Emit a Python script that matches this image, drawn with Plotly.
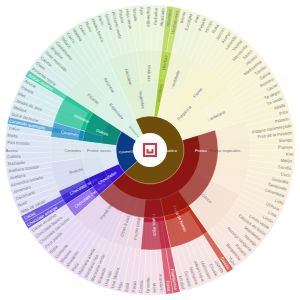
import plotly.graph_objects as go

# ---------------- data ----------------
ring1 = ["Enzimatico", "Caramelizzazione", "Distillazione secca"]
ring1_colors = ["#6f4e0b", "#0b3b85", "#d9f2e6"]

ring2 = ["Vegetales", "Aromáticas", "Fragancia", "Frutas",
         "Chocolates", "Frutos secos", "Dulces", "Especiado"]
ring2_parents = ["Enzimatico"] * 4 + ["Caramelizzazione"] * 3 + ["Distillazione secca"]
ring2_colors = ["#e0f1d6", "#a6cc2e", "#f8f5d6", "#8b1612",
                "#3616d4", "#dde8f0", "#0b8a78", "#dcf2e8"]

ring3 = ["Herbáceo", "Verduras", "Hierbas", "Mentolado", "Flores", "Herbolario",
         "Frutas tropicales", "Cítrico", "Fruta de hueso", "Frutos rojos",
         "Frutas pasas", "Otras frutas", "Pomáceas",
         "Chocolate con leche", "Chocolate negro", "Nueces", "Cereales",
         "Caramelo", "Azúcares", "Picante", "Resinoso"]
ring3_parents = ["Vegetales", "Vegetales", "Aromáticas", "Fragancia", "Fragancia", "Fragancia",
                 "Frutas", "Frutas", "Frutas", "Frutas", "Frutas", "Frutas", "Frutas",
                 "Chocolates", "Chocolates", "Frutos secos", "Frutos secos",
                 "Dulces", "Dulces", "Especiado", "Especiado"]
ring3_colors = ["#dcf0d8", "#e6f2d4", "#b2d43a", "#f1f3d2", "#f6f4d2", "#faf5da",
                "#f8ebd6", "#f4e0d2", "#b8200f", "#b21c34",
                "#eed9e2", "#ead6e6", "#e6d4ea",
                "#7a4ce6", "#2a12cc", "#d4dcef", "#dbe8ef",
                "#1a8ac8", "#14c08c", "#d6f0e2", "#dcf3e6"]

leaf_labels = [
    "Hierba fresca", "Heno", "Guisante", "Pimiento verde", "Pepino", "Hoja verde",
    "Tomate", "Apio", "Espárrago", "Ruibarbo", "Alcachofa",
    "Albahaca", "Hierbabuena",
    "Menta", "Eucalipto", "Anís", "Regaliz", "Hinojo",
    "Rosa", "Jazmín", "Azahar", "Lavanda", "Violeta", "Manzanilla", "Saúco", "Hibisco", "Madreselva",
    "Tomillo", "Salvia", "Romero", "Laurel", "Té negro", "Té verde", "Alfalfa",
    "Piña", "Plátano", "Plátano caramelizado", "Fruit de la Passion", "Mango", "Papaya", "Kiwi",
    "Melón", "Sandía", "Coco", "Guayaba", "Tamarindo", "Carambola", "Lichi", "Uchuva",
    "Lima", "Limón", "Limón verde", "Cáscara de limón", "Mandarina", "Naranja",
    "Naranja sanguina", "Pomelo", "Bergamota", "Yuzu",
    "Cereza", "Guinda", "Ciruela", "Melocotón", "Albaricoque", "Nectarina", "Durazno", "Mirabel",
    "Frambuesa", "Fresa", "Arándano", "Mora", "Grosella", "Cassis",
    "Pasas", "Dátil", "Higo",
    "Uva blanca", "Uva roja", "Granada",
    "Manzana verde", "Manzana roja", "Manzana asada", "Pera", "Membrillo", "Níspero",
    "Compota", "Sidra", "Pera asada",
    "Chocolate con leche", "Chocolate blanco", "Cacao en polvo",
    "Chocolate amargo", "Cacao", "Nibs de cacao",
    "Nuez", "Cacahuete", "Almendra", "Almendra tostada", "Avellana", "Avellana tostada",
    "Mazapán", "Galleta", "Avena", "Pan tostado", "Malta",
    "Toffee", "Caramelo quemado", "Dulce de leche",
    "Melaza", "Jarabe de arce", "Miel", "Panela", "Azúcar", "Azúcar moreno",
    "Pimienta negra", "Clavo", "Canela", "Nuez moscada", "Jengibre", "Cardamomo",
    "Tabaco", "Cuero", "Madera", "Cedro", "Humo",
]
leaf_parents = (["Herbáceo"] * 6 + ["Verduras"] * 5 + ["Hierbas"] * 2 + ["Mentolado"] * 5
                + ["Flores"] * 9 + ["Herbolario"] * 7 + ["Frutas tropicales"] * 15
                + ["Cítrico"] * 10 + ["Fruta de hueso"] * 8 + ["Frutos rojos"] * 6
                + ["Frutas pasas"] * 3 + ["Otras frutas"] * 3 + ["Pomáceas"] * 9
                + ["Chocolate con leche"] * 3 + ["Chocolate negro"] * 3 + ["Nueces"] * 6
                + ["Cereales"] * 5 + ["Caramelo"] * 3 + ["Azúcares"] * 6
                + ["Picante"] * 6 + ["Resinoso"] * 5)
leaf_values = [1] * len(leaf_labels)

accent_leaves = {"Albahaca": "#a6cc2e", "Hierbabuena": "#b4d43c", "Cereza": "#c42a16",
                 "Frambuesa": "#c41e3a", "Fresa": "#d02440", "Chocolate amargo": "#2a12d0",
                 "Cacao": "#3a18d8", "Caramelo quemado": "#1a8ad0", "Azúcar moreno": "#16c08e"}

# ---------------- styling helpers ----------------
START = 335.0          # compass angle where the first slice begins
REVERSE = True         # plotly lays slices counter-clockwise
ROT = 115

hue_stops = [(0, "#e2f1cf"), (40, "#f1f2c6"), (90, "#f8ecc6"), (130, "#f5e0d0"),
             (180, "#eed3e0"), (225, "#dccbf0"), (262, "#cfd8f0"), (292, "#c7e3ec"),
             (322, "#c6ecda"), (360, "#e2f1cf")]


def hx(c):
    return tuple(int(c[i:i + 2], 16) for i in (1, 3, 5))


def grad(a):
    a %= 360
    for (a0, c0), (a1, c1) in zip(hue_stops, hue_stops[1:]):
        if a0 <= a <= a1:
            t = (a - a0) / (a1 - a0)
            r = [round(x + (y - x) * t) for x, y in zip(hx(c0), hx(c1))]
            return "#%02x%02x%02x" % tuple(r)
    return hue_stops[0][1]


def is_dark(c):
    r, g, b = hx(c)
    return (0.299 * r + 0.587 * g + 0.114 * b) < 170


n_leaves = sum(leaf_values)
leaf_colors = []
acc = 0
for lab, v in zip(leaf_labels, leaf_values):
    mid = START + (acc + v / 2) * 360 / n_leaves
    acc += v
    leaf_colors.append(accent_leaves.get(lab, grad(mid)))

count3 = {k: 0 for k in ring3}
for p, v in zip(leaf_parents, leaf_values):
    count3[p] += v
count2 = {k: 0 for k in ring2}
for c, p in zip(ring3, ring3_parents):
    count2[p] += count3[c]


def order(lst):
    return list(reversed(lst)) if REVERSE else list(lst)


FONT = "Liberation Sans"
common = dict(sort=False, branchvalues="remainder", insidetextorientation="radial",
              rotation=ROT, hoverinfo="skip", texttemplate="%{text}")

# outer trace: ring3 roots + leaves
ids_big = order(ring3) + order([p + "/" + l for p, l in zip(leaf_parents, leaf_labels)])
par_big = [""] * len(ring3) + order(leaf_parents)
lab_big = order(ring3) + order(leaf_labels)
val_big = [0] * len(ring3) + order(leaf_values)
col_big = order(ring3_colors) + order(leaf_colors)
txt_big = [""] * len(ring3) + order(leaf_labels)
tc_big = ["#ffffff" if is_dark(c) else "#808080" for c in col_big]

# middle trace: ring2 roots + ring3
ids_mid = order(ring2) + order(ring3)
par_mid = [""] * len(ring2) + order(ring3_parents)
val_mid = [0] * len(ring2) + [count3[c] for c in order(ring3)]
col_mid = order(ring2_colors) + order(ring3_colors)
txt_mid = [""] * len(ring2) + order(ring3)
tc_mid = ["#ffffff" if is_dark(c) else "#777777" for c in col_mid]

# inner trace: ring1 roots + ring2
ids_sm = order(ring1) + order(ring2)
par_sm = [""] * len(ring1) + order(ring2_parents)
val_sm = [0] * len(ring1) + [count2[c] for c in order(ring2)]
col_sm = order(ring1_colors) + order(ring2_colors)
txt_sm = order(ring1) + order(ring2)
tc_sm = ["#ffffff" if is_dark(c) else "#777777" for c in col_sm]

fig = go.Figure()
fig.add_trace(go.Sunburst(ids=ids_big, labels=lab_big, parents=par_big, values=val_big,
                          text=txt_big, marker=dict(colors=col_big, line=dict(color="white", width=0.3)),
                          textfont=dict(family=FONT, size=4.2, color=tc_big),
                          domain=dict(x=[5 / 300, 295 / 300], y=[5 / 300, 295 / 300]), **common))
fig.add_trace(go.Sunburst(ids=ids_mid, labels=ids_mid, parents=par_mid, values=val_mid,
                          text=txt_mid, marker=dict(colors=col_mid, line=dict(color="white", width=0.3)),
                          textfont=dict(family=FONT, size=4.2, color=tc_mid),
                          domain=dict(x=[50 / 300, 250 / 300], y=[50 / 300, 250 / 300]), **common))
fig.add_trace(go.Sunburst(ids=ids_sm, labels=ids_sm, parents=par_sm, values=val_sm,
                          text=txt_sm, marker=dict(colors=col_sm, line=dict(color="white", width=0.3)),
                          textfont=dict(family=FONT, size=4.2, color=tc_sm),
                          domain=dict(x=[82 / 300, 218 / 300], y=[82 / 300, 218 / 300]), **common))

# centre logo
logo_red = "#d7353f"
shapes = [
    dict(type="circle", xref="paper", yref="paper", x0=133 / 300, x1=167 / 300, y0=133 / 300, y1=167 / 300,
         fillcolor="white", line=dict(width=0), layer="above"),
    dict(type="rect", xref="paper", yref="paper", x0=143 / 300, x1=157 / 300, y0=143 / 300, y1=157 / 300,
         fillcolor=logo_red, line=dict(width=0), layer="above"),
    dict(type="rect", xref="paper", yref="paper", x0=145 / 300, x1=155 / 300, y0=145 / 300, y1=155 / 300,
         fillcolor="white", line=dict(width=0), layer="above"),
    dict(type="rect", xref="paper", yref="paper", x0=146.5 / 300, x1=153.5 / 300, y0=146.5 / 300, y1=151 / 300,
         fillcolor=logo_red, line=dict(width=0), layer="above"),
    dict(type="rect", xref="paper", yref="paper", x0=148.5 / 300, x1=151.5 / 300, y0=148.5 / 300, y1=151.5 / 300,
         fillcolor="white", line=dict(width=0), layer="above"),
]

fig.update_layout(width=300, height=300, margin=dict(l=0, r=0, t=0, b=0),
                  paper_bgcolor="white", plot_bgcolor="white", showlegend=False, shapes=shapes)

fig.write_html("out.html")
